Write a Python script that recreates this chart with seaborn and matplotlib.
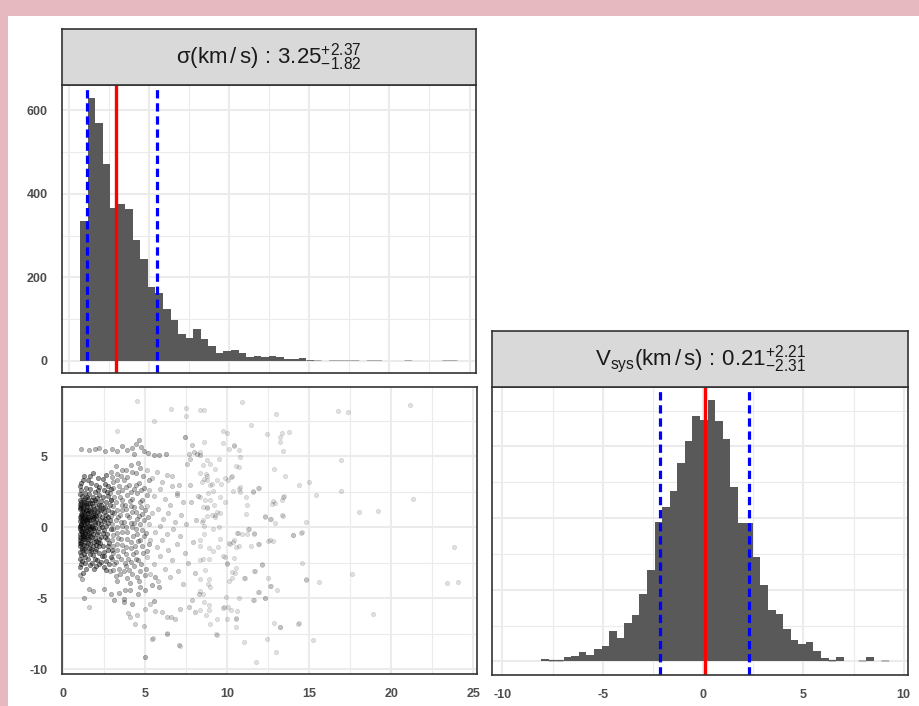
import numpy as np
import pandas as pd
import matplotlib
matplotlib.use('Agg')
import matplotlib.pyplot as plt
from matplotlib.patches import Rectangle
from matplotlib.ticker import MultipleLocator
import seaborn as sns

# ---- sigma posterior histogram (50 equal bins) ----
sigma_start = 0.71
sigma_binw = 0.4707
sigma_counts = [335, 628, 568, 470, 366, 375, 363, 289, 244, 178,
                162, 124, 98, 64, 54, 77, 53, 37, 18, 25,
                26, 18, 10, 12, 9, 13, 10, 5, 5, 6,
                2, 1, 0, 1, 1, 1, 1, 0, 1, 1,
                0, 0, 0, 1, 0, 0, 0, 0, 1, 1]
sigma_lines = [1.13, 2.98, 5.49]   # 16%, 50%, 84%

# ---- Vsys posterior histogram (46 equal bins) ----
vsys_start = -8.07
vsys_binw = 0.377
vsys_counts = [3, 2, 2, 6, 8, 13, 9, 17, 22, 42,
               32, 54, 65, 94, 128, 194, 215, 238, 277, 308,
               343, 337, 365, 336, 310, 243, 193, 193, 145, 107,
               71, 66, 45, 30, 24, 27, 15, 4, 2, 6,
               0, 0, 1, 6, 0, 1]
vsys_lines = [-2.14, 0.10, 2.31]

# ---- joint samples (sigma, vsys) ----
core_pts = [
    (1.05, 2.6), (1.3, 2.4), (1.6, 2.7), (1.9, 2.5), (2.2, 2.3), (2.5, 2.6), (2.7, 2.2), (1.15, 2.2), (1.45, 2.15), (2.05, 2.05),
    (1.02, 1.9), (1.25, 1.8), (1.5, 2.0), (1.75, 1.7), (1.95, 1.95), (2.3, 1.85), (2.6, 1.75), (1.1, 1.6), (1.4, 1.55), (2.15, 1.6),
    (1.0, 1.3), (1.2, 1.45), (1.38, 1.25), (1.6, 1.4), (1.85, 1.3), (2.05, 1.45), (2.4, 1.35), (2.7, 1.2), (1.7, 1.15), (1.12, 1.1),
    (1.05, 0.95), (1.3, 0.85), (1.5, 1.0), (1.72, 0.8), (1.9, 0.95), (2.15, 0.9), (2.35, 0.7), (2.6, 0.9), (1.18, 0.7), (1.45, 0.6), (2.0, 0.6),
    (1.0, 0.45), (1.22, 0.35), (1.4, 0.5), (1.62, 0.3), (1.8, 0.55), (2.1, 0.3), (2.45, 0.45), (2.75, 0.3), (1.1, 0.15), (1.55, 0.1), (1.95, 0.2),
    (1.02, -0.1), (1.25, -0.05), (1.45, -0.25), (1.68, 0.0), (1.88, -0.2), (2.2, -0.05), (2.5, -0.2), (1.12, -0.4), (1.35, -0.45), (1.78, -0.5), (2.05, -0.45),
    (1.0, -0.7), (1.2, -0.8), (1.42, -0.65), (1.6, -0.9), (1.9, -0.75), (2.3, -0.7), (2.65, -0.85), (1.08, -1.0), (1.5, -1.1), (2.1, -1.05),
    (1.03, -1.3), (1.28, -1.25), (1.55, -1.45), (1.8, -1.3), (2.0, -1.55), (2.4, -1.35), (1.15, -1.6), (1.4, -1.7), (2.2, -1.8), (2.7, -1.6),
    (1.05, -1.95), (1.3, -2.1), (1.62, -1.9), (1.9, -2.2), (2.5, -2.05), (1.15, -2.4), (1.75, -2.5), (2.3, -2.45),
    (1.0, -2.8), (1.4, -2.9), (2.0, -2.75), (1.2, -3.2), (2.6, -3.0),
    (1.05, 3.1), (1.5, 3.3), (2.0, 3.0), (2.4, 3.4), (1.25, 3.6), (1.8, 3.8), (2.75, 2.9),
    (1.08, 0.6), (1.33, 0.15), (1.5, -0.55), (1.28, 1.05), (1.65, 0.7), (1.15, -0.25), (1.42, 0.95), (1.7, -0.3), (1.05, 0.25), (1.35, -1.0),
    (1.6, 1.7), (1.2, 1.95), (1.9, 0.4), (1.55, 1.2), (1.0, -0.5), (1.25, -1.5), (1.45, 0.3), (1.75, 0.1), (1.1, 1.35), (1.85, -1.0),
    (2.25, 0.5), (2.4, -0.4), (2.6, 0.1), (2.05, 1.1), (1.3, 0.55), (1.62, -1.2), (1.15, 0.85), (1.95, -0.05), (2.15, -0.8), (1.4, -0.2),
    (1.02, 0.7), (1.5, 0.75), (1.8, 0.9), (1.25, -0.7), (2.3, 1.2), (1.7, -1.7), (1.1, -1.2), (1.55, -0.05), (1.38, 1.7), (2.0, -1.25),
    (1.07, 1.75), (1.33, 2.05), (1.58, 2.35), (1.83, 2.15), (2.12, 2.6), (2.42, 2.1), (2.68, 2.45), (2.88, 1.9),
    (1.04, 1.45), (1.27, 1.6), (1.52, 1.7), (1.78, 1.5), (2.02, 1.78), (2.28, 1.55), (2.55, 1.45), (2.82, 1.6),
    (1.1, 0.8), (1.36, 1.2), (1.63, 1.05), (1.88, 1.15), (2.18, 1.25), (2.45, 1.05), (2.72, 0.75), (2.95, 1.1),
    (1.02, 0.1), (1.18, 0.5), (1.46, 0.42), (1.7, 0.52), (1.97, 0.78), (2.28, 0.2), (2.56, 0.6), (2.85, 0.5),
    (1.06, -0.25), (1.32, -0.3), (1.58, -0.38), (1.83, -0.05), (2.12, -0.3), (2.38, 0.05), (2.66, -0.45), (2.92, -0.15),
    (1.03, -0.9), (1.22, -0.55), (1.48, -0.85), (1.74, -0.7), (2.0, -0.95), (2.26, -1.1), (2.52, -0.65), (2.8, -1.1),
    (1.13, -1.45), (1.38, -1.35), (1.66, -1.55), (1.92, -1.65), (2.15, -1.35), (2.45, -1.75), (2.75, -1.35), (2.98, -1.6),
    (1.01, -1.75), (1.24, -1.9), (1.5, -2.2), (1.82, -1.95), (2.08, -2.3), (2.35, -2.05), (2.62, -2.35), (2.9, -2.1),
    (1.09, -2.6), (1.35, -2.5), (1.6, -2.65), (1.88, -2.9), (2.2, -2.6), (2.5, -2.8), (2.8, -2.55),
    (1.04, 2.9), (1.36, 2.8), (1.7, 3.1), (2.15, 2.85), (2.55, 3.05), (2.9, 2.7), (1.2, 3.35), (1.6, 3.6), (2.1, 3.5), (2.6, 3.7),
    (1.0, 0.05), (1.0, -1.1), (1.0, 1.65), (1.01, -2.2), (1.03, 2.35), (1.15, -0.05), (1.25, 0.2), (1.12, 0.45), (1.35, 0.7), (1.2, -0.6),
    (1.55, 0.55), (1.65, -0.15), (1.45, 1.4), (1.75, 1.95), (1.3, -0.85), (1.85, 0.7), (1.62, -0.6), (1.4, 0.05), (1.1, -0.75), (1.22, 1.25),
]

mid_pts = [
    (2.9, 3.9), (3.2, 4.3), (3.5, 3.6), (3.8, 4.0), (4.1, 4.4), (4.4, 3.8), (4.7, 4.2), (3.0, 3.2), (3.4, 2.9), (3.7, 3.3),
    (4.0, 3.0), (4.3, 2.7), (4.6, 3.1), (4.9, 2.8), (2.85, 2.4), (3.1, 2.1), (3.35, 2.5), (3.6, 1.9), (3.9, 2.3), (4.2, 2.0),
    (4.5, 2.4), (4.8, 1.9), (3.0, 1.5), (3.3, 1.2), (3.55, 1.6), (3.85, 1.3), (4.15, 1.5), (4.4, 1.1), (4.75, 1.4), (2.9, 0.8),
    (3.2, 0.5), (3.45, 0.9), (3.7, 0.4), (4.0, 0.7), (4.3, 0.3), (4.6, 0.8), (4.9, 0.5), (3.05, -0.1), (3.3, -0.4), (3.6, 0.1),
    (3.9, -0.3), (4.2, 0.0), (4.5, -0.5), (4.8, -0.2), (2.95, -0.9), (3.25, -1.2), (3.5, -0.8), (3.8, -1.4), (4.1, -1.0), (4.35, -1.3),
    (4.7, -0.9), (3.0, -1.8), (3.35, -2.0), (3.65, -1.7), (3.95, -2.2), (4.25, -1.9), (4.55, -2.3), (4.85, -1.8), (3.1, -2.6), (3.4, -2.9),
    (3.75, -2.5), (4.0, -3.0), (4.3, -2.7), (4.65, -3.1), (3.2, -3.4), (3.9, -3.6), (4.5, -3.5), (2.85, -3.1),
    (1.1, 5.5), (1.59, 5.45), (1.96, 5.5), (2.2, 5.55), (2.56, 5.4), (2.97, 5.5), (3.27, 5.35), (3.58, 5.7), (3.88, 5.45), (4.19, 5.55),
    (4.64, 6.12), (4.43, 5.84), (4.76, 5.65), (4.29, 5.18), (4.9, 5.37), (5.16, 5.23), (5.51, 5.06), (5.82, 5.06), (6.26, 5.18),
    (1.14, -3.61), (1.59, -4.31), (1.04, -3.38), (1.79, -4.48), (2.46, -4.31), (2.93, -4.66), (3.38, -4.62), (3.78, -4.38), (4.09, -4.43),
    (4.55, -4.66), (4.96, -4.38), (5.41, -4.08), (5.57, -3.49), (1.24, -4.95), (3.07, -5.13), (3.68, -5.02), (4.19, -5.37), (5.51, -5.2),
    (5.82, -4.2), (4.7, -4.2), (3.68, -5.25),
    (2.95, 3.55), (3.25, 3.75), (3.55, 4.05), (3.9, 3.55), (4.2, 3.9), (4.55, 4.5), (4.85, 3.6), (5.2, 3.3),
    (3.05, 2.75), (3.3, 3.3), (3.6, 2.6), (3.85, 2.85), (4.1, 2.45), (4.45, 2.95), (4.75, 2.6), (5.1, 2.3),
    (2.9, 1.95), (3.2, 1.75), (3.45, 2.15), (3.75, 1.6), (4.05, 1.85), (4.3, 1.45), (4.65, 1.75), (5.0, 1.2),
    (3.1, 1.0), (3.35, 0.75), (3.6, 1.25), (3.9, 0.85), (4.2, 1.05), (4.5, 0.55), (4.8, 0.95), (5.15, 0.7),
    (2.95, 0.25), (3.25, 0.05), (3.5, 0.35), (3.8, 0.0), (4.1, 0.3), (4.4, -0.15), (4.7, 0.2), (5.05, -0.4),
    (3.05, -0.55), (3.35, -0.75), (3.6, -0.35), (3.9, -0.8), (4.25, -0.6), (4.55, -0.95), (4.9, -0.6), (5.2, -1.2),
    (3.0, -1.35), (3.3, -1.6), (3.55, -1.25), (3.85, -1.85), (4.15, -1.45), (4.45, -1.75), (4.8, -1.35), (5.1, -1.7),
    (2.95, -2.25), (3.2, -2.45), (3.5, -2.2), (3.8, -2.75), (4.1, -2.45), (4.4, -2.2), (4.75, -2.6), (5.05, -2.9),
    (3.05, -3.0), (3.45, -3.3), (3.7, -3.05), (4.2, -3.3), (4.6, -3.75), (4.95, -3.35), (3.3, -3.8), (4.05, -3.9),
]

outer_pts = [
    (5.1, 4.0), (5.4, 3.5), (5.7, 3.9), (6.0, 3.2), (6.3, 3.7), (6.6, 2.9), (5.2, 2.6), (5.5, 2.2), (5.9, 2.7), (6.2, 2.0),
    (6.5, 1.6), (6.9, 2.3), (5.1, 1.5), (5.4, 1.0), (5.8, 1.3), (6.1, 0.6), (6.4, 1.0), (6.8, 0.4), (7.2, 0.9), (5.2, 0.2),
    (5.6, -0.3), (5.9, 0.1), (6.3, -0.5), (6.7, -0.1), (7.1, -0.6), (7.5, 0.2), (5.3, -0.9), (5.7, -1.4), (6.0, -0.9), (6.4, -1.6),
    (6.9, -1.2), (7.4, -1.8), (5.1, -2.1), (5.5, -2.6), (5.9, -2.0), (6.2, -2.9), (6.6, -2.3), (7.0, -3.1), (7.6, -2.5), (5.3, -3.3),
    (5.8, -3.8), (6.5, -3.5), (7.3, -4.0), (8.0, -3.2), (7.8, 1.8), (8.1, 0.5), (7.7, 3.0), (8.2, 2.2), (7.9, -1.0),
    (7.85, 5.77), (7.95, 5.3), (8.15, 5.13), (8.36, 5.06), (7.54, 4.48), (7.64, 5.18), (7.75, 4.83), (7.08, 2.95), (6.63, 3.59),
    (6.93, 2.41), (7.28, 1.78), (1.59, -5.6), (3.94, -6.02), (4.09, -6.31), (4.49, -6.19), (4.39, -6.82), (5.0, -5.72), (5.31, -5.37),
    (5.61, -5.88), (6.02, -5.95), (6.32, -6.31), (6.59, -6.31), (6.83, -6.42), (7.14, -5.72), (7.64, -5.6), (8.05, -5.95), (7.85, -5.13),
    (8.25, -4.66), (4.9, -6.96), (5.41, -7.83), (6.32, -7.48), (7.03, -8.3), (4.96, -9.12), (7.4, 6.35),
]

sparse_pts = [
    (4.49, 8.91), (6.57, 8.32), (7.5, 8.37), (7.5, 7.83), (8.31, 8.25), (8.56, 8.25), (10.89, 8.79), (5.55, 7.5), (3.27, 6.8), (11.44, 7.2),
    (12.97, 7.97), (16.73, 8.18), (17.34, 8.09), (21.12, 8.58), (9.74, 6.8), (9.98, 6.66), (7.44, 6.33), (12.42, 6.54), (13.33, 6.61), (13.74, 6.68),
    (13.19, 6.33), (13.23, 6.02), (13.4, 5.39), (16.9, 4.74), (12.86, 4.1), (13.54, 3.61), (14.35, 2.98), (14.96, 3.16), (15.43, 2.27), (16.9, 2.56),
    (21.3, 1.97), (18.05, 1.05), (19.17, 1.17), (14.82, 0.4), (14.55, -0.3), (14.0, -0.54), (23.84, -1.36), (14.55, -2.48), (17.6, -3.28), (14.82, -3.63),
    (15.57, -3.82), (23.39, -3.89), (24.04, -3.84), (18.86, -6.12), (12.83, -6.7), (13.23, -7.03), (14.35, -6.75), (15.22, -7.92), (12.42, -7.88), (12.95, -8.77),
    (11.77, -9.45), (5.0, -9.14), (7.13, -8.32), (5.47, -7.8), (6.32, -7.45), (11.0, -8.04), (9.37, -7.57), (9.98, -6.47), (10.55, -6.42), (9.74, -5.7),
    (10.59, -5.86), (10.02, -5.63), (11.6, -5.11), (12.28, -4.99), (12.58, -4.13), (13.03, -4.41), (11.91, -4.52), (11.1, -3.59), (11.71, -3.07), (12.11, -2.6),
    (10.08, -3.77), (9.98, -2.48), (10.39, -2.18), (10.49, -3.23), (9.76, -1.99), (10.08, -1.13), (10.39, -0.89), (10.63, -0.42), (11.2, -0.47), (11.3, -0.14),
    (11.65, -0.42), (11.91, -1.17), (12.32, 0.7), (12.66, 0.59), (12.58, -0.89), (12.78, -0.94), (12.93, 0.33), (13.37, 0.8), (10.69, 2.67), (10.75, 2.51),
    (11.12, 2.16), (11.2, 1.57), (11.16, 0.94), (11.91, 2.74), (11.57, 2.51), (12.72, 1.64), (12.89, 1.73), (13.4, 2.11), (10.24, 3.56), (10.04, 3.33),
    (10.51, 4.31), (10.69, 4.22), (10.79, 4.97), (10.39, 5.74), (10.12, 5.51), (9.57, 2.16), (9.84, 1.8), (9.27, 0.75), (9.57, 0.98), (8.92, 1.92),
    (8.76, 1.45), (9.17, 1.57), (8.58, 6.0), (10.43, 5.77), (10.73, 5.41), (8.33, 5.3), (8.74, 4.76), (9.5, 4.83), (9.76, 5.93), (8.5, 4.36),
    (8.94, 4.43), (9.25, 4.13), (8.33, 3.82), (8.7, 3.73), (8.58, 3.42), (8.78, 3.59), (9.04, 3.02), (9.35, 3.31), (9.59, 3.07), (9.86, 3.49),
    (10.26, 3.61), (10.32, 2.56), (10.77, 2.84), (11.54, 2.56), (11.89, 2.79), (12.77, 1.83), (13.31, 1.95), (13.45, 2.18), (13.33, 0.84), (12.3, 0.77),
    (12.6, 0.61), (11.28, -0.09), (10.87, -0.45), (11.63, -0.45), (11.89, -1.15), (10.61, -0.4), (10.37, -1.03), (10.16, -1.15), (10.53, -1.38), (10.73, -1.34),
    (12.5, -0.96), (11.42, -1.31), (13.98, -0.56), (14.49, -0.38), (14.8, -3.68), (12.09, -2.63), (11.65, -3.07), (11.02, -3.56), (10.26, -3.14), (10.26, -3.54),
    (10.0, -2.56), (9.86, -2.09), (10.53, -2.86), (12.5, -3.56), (12.64, -4.13), (11.89, -4.55), (12.3, -4.95), (11.58, -5.09), (10.73, -4.95), (9.9, -4.9),
    (9.8, -5.6), (10.2, -5.79), (10.53, -6.38), (10.53, -7.01), (8.9, -5.84), (9.39, -6.42), (8.94, -6.82), (9.31, -7.48), (13.21, -7.01), (14.29, -6.77),
    (8.33, -3.61), (8.54, -4.66), (8.33, -5.84), (8.7, -6.14), (8.94, -4.2), (8.84, -3.96), (8.9, -5.44), (8.58, -5.25), (8.33, -4.48), (8.33, -0.91),
    (8.33, -1.34), (8.58, -0.45), (8.9, -1.43), (8.9, -2.2), (8.54, -2.2), (8.9, -3.63), (8.64, -2.98), (8.33, -2.32), (9.1, -1.66), (9.45, -1.38),
    (9.55, -0.8), (9.51, 0.02), (9.25, 0.84), (9.04, 0.84), (8.54, 0.54), (8.43, 0.38), (8.58, 0.07), (9.15, -0.09), (8.78, 0.77), (9.39, 1.08),
    (8.5, 1.43), (8.78, 1.38), (8.64, 1.9), (8.33, 2.13), (8.84, 2.41), (9.1, 2.56), (8.94, 2.95), (8.43, 3.19), (8.74, 3.35),
]

sigma_title = r'$\sigma(km\,/\,s)\,:\,3.25^{+2.37}_{-1.82}$'
vsys_title = r'$V_{sys}(km\,/\,s)\,:\,0.21^{+2.21}_{-2.31}$'

sns.set_theme(style='white')
plt.rcParams['font.family'] = ['Liberation Sans', 'DejaVu Sans']
plt.rcParams['mathtext.fontset'] = 'custom'
plt.rcParams['mathtext.rm'] = 'Liberation Sans'
plt.rcParams['mathtext.it'] = 'Liberation Sans'
plt.rcParams['mathtext.default'] = 'regular'

W, H = 920, 706
fig = plt.figure(figsize=(W / 100, H / 100), dpi=100, facecolor='#E6B9C1')
fig.patches.append(Rectangle((8 / W, 0), 1, 690 / H, transform=fig.transFigure,
                             facecolor='white', edgecolor='none', zorder=-5))


def px_axes(x0, y0, x1, y1):
    return fig.add_axes([x0 / W, 1 - y1 / H, (x1 - x0) / W, (y1 - y0) / H])


def style_panel(ax):
    ax.set_facecolor('white')
    ax.set_axisbelow(True)
    ax.grid(True, which='major', color='#EBEBEB', lw=1.5)
    ax.grid(True, which='minor', color='#EBEBEB', lw=0.8)
    for sp in ax.spines.values():
        sp.set_color('#333333')
        sp.set_linewidth(1.2)
        sp.set_visible(True)
    ax.tick_params(which='major', length=5.5, width=1, color='#333333',
                   labelcolor='#4D4D4D', labelsize=9, pad=4.5)
    ax.tick_params(which='minor', length=0)
    ax.set_xlabel('')
    ax.set_ylabel('')


def strip(x0, y0, x1, y1, label):
    s = px_axes(x0, y0, x1, y1)
    s.set_facecolor('#D9D9D9')
    s.set_xticks([])
    s.set_yticks([])
    for sp in s.spines.values():
        sp.set_color('#333333')
        sp.set_linewidth(1.2)
    s.text(0.5, 0.5, label, ha='center', va='center', fontsize=16,
           color='#1A1A1A', transform=s.transAxes)


def bold_ticks(ax, xt=None, yt=None):
    if xt is not None:
        ax.set_xticks(xt)
        ax.set_xticklabels([str(t) for t in xt], fontweight='bold')
    if yt is not None:
        ax.set_yticks(yt)
        ax.set_yticklabels([str(t) for t in yt], fontweight='bold')


def hist_panel(ax, start, binw, counts):
    edges = [start + binw * i for i in range(len(counts) + 1)]
    centres = [(a + b) / 2 for a, b in zip(edges[:-1], edges[1:])]
    df = pd.DataFrame({'centre': centres, 'n': counts})
    sns.histplot(data=df, x='centre', weights='n', bins=edges, color='#595959',
                 alpha=1, linewidth=0, ax=ax)
    for p in ax.patches:
        if 0 < p.get_height() <= 2:
            p.set_snap(False)   # keep the one-sample bars visible as hairlines


def quantile_lines(ax, lines):
    ax.axvline(lines[0], color='blue', lw=2.3, ls=(0, (2.6, 1.5)))
    ax.axvline(lines[2], color='blue', lw=2.3, ls=(0, (2.6, 1.5)))
    ax.axvline(lines[1], color='red', lw=2.4)


# ---- top-left: sigma histogram ----
ax1 = px_axes(61.7, 85, 476, 372.7)
hist_panel(ax1, sigma_start, sigma_binw, sigma_counts)
quantile_lines(ax1, sigma_lines)
style_panel(ax1)
bold_ticks(ax1, xt=[0, 5, 10, 15, 20, 25], yt=[0, 200, 400, 600])
ax1.xaxis.set_minor_locator(MultipleLocator(2.5))
ax1.yaxis.set_minor_locator(MultipleLocator(100))
ax1.tick_params(axis='x', which='both', length=0, labelbottom=False)
ax1.set_xlim(-0.43, 25.4)
ax1.set_ylim(-28, 659.8)
strip(61.7, 29.3, 476, 85, sigma_title)

# ---- bottom-left: joint scatter ----
ax2 = px_axes(61.7, 387.3, 476.7, 674)
groups = [(sparse_pts, 0.12), (outer_pts, 0.18), (mid_pts, 0.28), (core_pts, 0.42)]
for pts, a in groups:
    df = pd.DataFrame(pts, columns=['sigma', 'vsys'])
    sns.scatterplot(data=df, x='sigma', y='vsys', ax=ax2, color='black',
                    edgecolor='black', linewidth=0.5, s=10, alpha=a, legend=False)
style_panel(ax2)
bold_ticks(ax2, xt=[0, 5, 10, 15, 20, 25], yt=[-10, -5, 0, 5])
ax2.xaxis.set_minor_locator(MultipleLocator(2.5))
ax2.yaxis.set_minor_locator(MultipleLocator(2.5))
ax2.set_xlim(-0.1, 25.2)
ax2.set_ylim(-10.32, 9.85)

# ---- bottom-right: Vsys histogram ----
ax3 = px_axes(492.3, 386.7, 907.7, 675)
hist_panel(ax3, vsys_start, vsys_binw, vsys_counts)
quantile_lines(ax3, vsys_lines)
style_panel(ax3)
bold_ticks(ax3, xt=[-10, -5, 0, 5, 10], yt=[0, 100, 200, 300])
ax3.xaxis.set_minor_locator(MultipleLocator(2.5))
ax3.yaxis.set_minor_locator(MultipleLocator(50))
ax3.tick_params(axis='y', which='both', length=0, labelleft=False)
ax3.set_xlim(-10.5, 10.2)
ax3.set_ylim(-19.1, 383.5)
strip(492.3, 331, 907.7, 386.7, vsys_title)

fig.savefig('out.png', dpi=100, facecolor=fig.get_facecolor())
